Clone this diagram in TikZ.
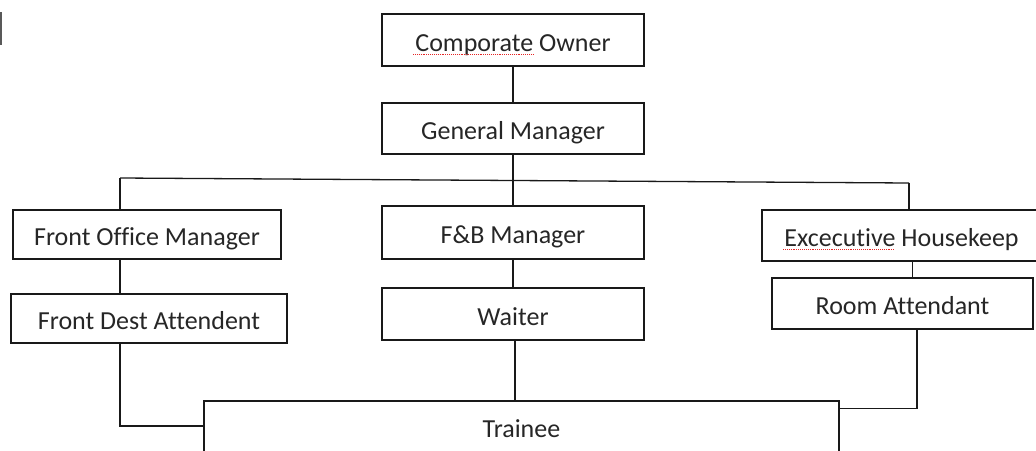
\documentclass[tikz,border=0pt]{standalone}
\usepackage{fontspec}
\setmainfont[Ligatures=NoCommon]{Carlito}
\usepackage{tikz}
\definecolor{boxline}{rgb}{0.1, 0.1, 0.1}
\definecolor{boxtext}{rgb}{0.15, 0.15, 0.15}
\definecolor{spellred}{rgb}{0.9, 0.15, 0.15}
\definecolor{edgemark}{rgb}{0.35, 0.35, 0.35}

\begin{document}
\begin{tikzpicture}[x=1pt, y=-1pt, line width=1.3pt,
	post/.style={draw=boxline, rectangle, inner sep=0pt, minimum height=50pt,
		text height=22pt, text depth=0pt, text=boxtext, font=\fontsize{26}{30}\selectfont},
	link/.style={draw=boxline},
	squiggle/.style={draw=spellred, densely dotted, line width=0.9pt}]
\useasboundingbox (0,0) rectangle (1036,450);
\clip (0,0) rectangle (1036,450);

% mark on the left edge
\draw[edgemark, line width=1.6pt] (1,12) -- (1,45);

% top of the chart
\node[post, minimum width=262pt, minimum height=52pt] (owner) at (513,40) {Comporate Owner};
\node[post, minimum width=262pt, minimum height=51pt] (gm) at (513,128.5) {General Manager};

% managers
\node[post, minimum width=268pt, minimum height=49pt] (fom) at (147,234.5) {Front Office Manager};
\node[post, minimum width=262pt, minimum height=53pt] (fbm) at (513,232.5) {F\&B Manager};
\node[post, minimum width=279pt, minimum height=51pt] (exec) at (901.5,235.5) {Excecutive Housekeep};

% staff
\node[post, minimum width=276pt, minimum height=49pt] (fda) at (149,318.5) {Front Dest Attendent};
\node[post, minimum width=262pt, minimum height=52pt] (waiter) at (513,314) {Waiter};
\node[post, minimum width=261pt, minimum height=51pt] (room) at (902.5,303.5) {Room Attendant};

% trainee, runs off the bottom
\node[post, minimum width=635pt, minimum height=54pt, text height=18pt] (trainee) at (521.5,428) {Trainee};

% spelling marks
\draw[squiggle] (413,54.5) -- (534,54.5);
\draw[squiggle] (783,249.5) -- (895,249.5);

% bar under the general manager
\coordinate (barL) at (120,178);
\coordinate (barR) at (909,183);
\draw[link] (barL) -- (barR);
\draw[link] (owner) -- (gm);
\draw[link] (gm.south) -- (fbm.north);
\draw[link] (barL) -- (fom.north -| barL);
\draw[link] (barR) -- (exec.north -| barR);

% down to the staff
\draw[link] (fom.south -| barL) -- (fda.north -| barL);
\draw[link] (fbm) -- (waiter);
\draw[link] ([xshift=11pt]exec.south) -- ([xshift=11pt]exec.south |- room.north);

% into the trainee box
\draw[link] (fda.south -| barL) |- ([yshift=2pt]trainee.west);
\draw[link] ([xshift=2pt]waiter.south) -- ([xshift=2pt]waiter.south |- trainee.north);
\draw[link] ([xshift=14.5pt]room.south) |- ([yshift=-8pt]trainee.north east);
\end{tikzpicture}
\end{document}
